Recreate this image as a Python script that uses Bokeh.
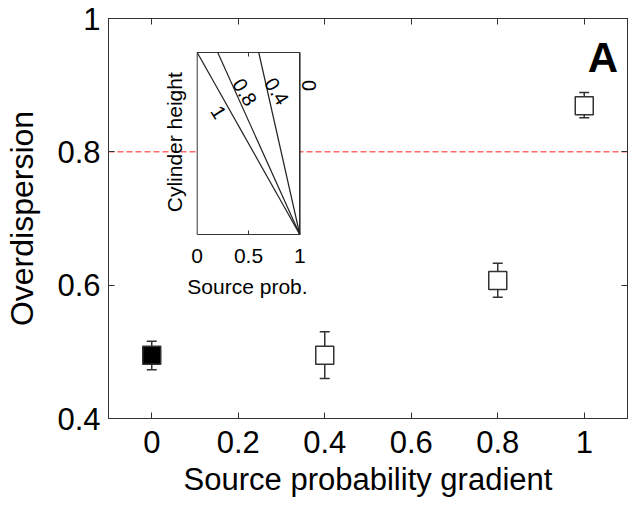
import math
from bokeh.plotting import figure
from bokeh.models import Range1d, LinearAxis, FixedTicker, Span, Label
from bokeh.core.properties import value
from bokeh.embed import file_html
from bokeh.resources import INLINE

# ---- data ----
gradients = [0.0, 0.4, 0.8, 1.0]
overdispersion = [0.495, 0.495, 0.607, 0.869]
err_upper = [0.516, 0.530, 0.633, 0.889]
err_lower = [0.473, 0.460, 0.582, 0.851]
marker_fill = ["black", "white", "white", "white"]
threshold = 0.8
x_ticks = [0.0, 0.2, 0.4, 0.6, 0.8, 1.0]
y_ticks = [0.4, 0.6, 0.8, 1.0]

inset_gradients = [1.0, 0.8, 0.4, 0.0]
inset_labels = ["1", "0.8", "0.4", "0"]
inset_ticks = [0.0, 0.5, 1.0]
inset_tick_labels = ["0", "0.5", "1"]

FONT = "Liberation Sans"
AX = "#333333"

p = figure(width=628, height=508, x_range=Range1d(-0.1, 1.1), y_range=Range1d(0.4, 1.0),
           output_backend="svg", toolbar_location=None,
           min_border_left=108, min_border_right=1, min_border_top=18, min_border_bottom=90)
p.xgrid.visible = False
p.ygrid.visible = False
p.outline_line_color = AX
p.outline_line_width = 1
p.background_fill_color = "white"
p.border_fill_color = "white"

def style_axis(ax, ticks, labels=True):
    ax.ticker = FixedTicker(ticks=ticks)
    ax.major_tick_in = 6
    ax.major_tick_out = 0
    ax.minor_tick_line_color = None
    ax.axis_line_color = AX
    ax.major_tick_line_color = AX
    ax.major_label_text_font = FONT
    if labels:
        ax.major_label_text_color = "black"
        ax.major_label_text_font_size = "31px"
        ax.major_label_standoff = 8
        ax.major_label_overrides = {0: "0", 1: "1"}
    else:
        ax.major_label_text_color = None
        ax.major_label_text_font_size = "1px"
        ax.major_label_standoff = 0

style_axis(p.xaxis[0], x_ticks)
style_axis(p.yaxis[0], y_ticks)
p.xaxis.major_label_standoff = 12
p.xaxis.axis_label = "Source probability gradient"
p.yaxis.axis_label = "Overdispersion"
for ax in (p.xaxis[0], p.yaxis[0]):
    ax.axis_label_text_font = FONT
    ax.axis_label_text_font_style = "normal"
    ax.axis_label_text_color = "black"
p.xaxis.axis_label_text_font_size = "31px"
p.yaxis.axis_label_text_font_size = "32px"
p.xaxis.axis_label_standoff = 6
p.yaxis.axis_label_standoff = 14

top_ax = LinearAxis()
style_axis(top_ax, x_ticks, labels=False)
p.add_layout(top_ax, "above")
right_ax = LinearAxis()
style_axis(right_ax, y_ticks, labels=False)
p.add_layout(right_ax, "right")

# threshold line (under the inset)
p.add_layout(Span(location=threshold, dimension="width", line_color="#ff2020",
                  line_dash="6 3", line_width=1, level="underlay"))

# error bars
p.segment(x0=gradients, y0=err_lower, x1=gradients, y1=err_upper, line_color=AX, line_width=1.5)
p.scatter(gradients, err_upper, marker="dash", size=10, line_color=AX, line_width=1.5)
p.scatter(gradients, err_lower, marker="dash", size=10, line_color=AX, line_width=1.5)
p.scatter(gradients, overdispersion, marker="square", size=18, fill_color=marker_fill,
          line_color=AX, line_width=1.5)

# ---- inset ----
ins = p.subplot(x_source=Range1d(0, 1), y_source=Range1d(0, 1),
                x_target=Range1d(0.1051, 0.3423), y_target=Range1d(0.676, 0.949))
ins.quad(left=[inset_ticks[0]], right=[inset_ticks[-1]], bottom=[0], top=[1],
         fill_color="white", line_color=AX, line_width=1)
ins.segment(x0=[1.0] * len(inset_gradients), y0=[0.0] * len(inset_gradients),
            x1=[1.0 - g for g in inset_gradients], y1=[1.0] * len(inset_gradients),
            line_color="#222222", line_width=1.2)
# small ticks at 0.5
ins.segment(x0=[0.5, 0.5], y0=[0.0, 1.0], x1=[0.5, 0.5], y1=[0.022, 0.978],
            line_color=AX, line_width=1)
deg = math.pi / 180
ins.text(x=[0.208, 0.463, 0.776, 1.085], y=[0.672, 0.782, 0.787, 0.819], text=inset_labels,
         angle=[-58 * deg, -58 * deg, -58 * deg, -90 * deg],
         text_align="center", text_baseline="middle", text_font=value(FONT),
         text_font_size="20px", text_color="black")
ins.text(x=inset_ticks, y=[-0.119] * 3, text=inset_tick_labels, text_align="center",
         text_baseline="middle", text_font=value(FONT), text_font_size="21px",
         text_color="black")
ins.text(x=[0.49], y=[-0.286], text=["Source prob."], text_align="center",
         text_baseline="middle", text_font=value(FONT), text_font_size="21px",
         text_color="black")
ins.text(x=[-0.221], y=[0.507], text=["Cylinder height"], angle=[90 * deg], text_align="center",
         text_baseline="middle", text_font=value(FONT), text_font_size="21px",
         text_color="black")

p.add_layout(Label(x=1.043, y=0.9408, text="A", text_font=FONT, text_font_size="42px",
                   text_font_style="bold", text_align="center", text_baseline="middle",
                   text_color="black"))

open("out.html", "w").write(file_html(p, INLINE))
